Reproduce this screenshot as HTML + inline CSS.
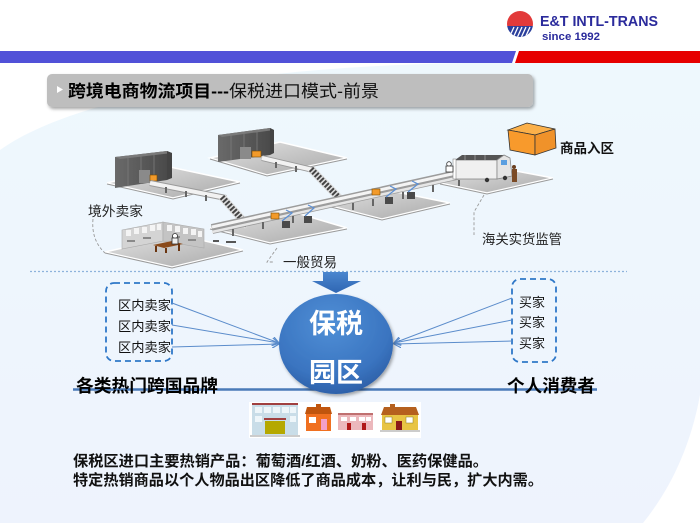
<!DOCTYPE html>
<html><head><meta charset="utf-8"><style>
html,body{margin:0;padding:0;background:#fff;}
svg{display:block;}
text{font-family:"Liberation Sans","Noto Sans CJK SC",sans-serif;}
</style></head><body>
<svg width="700" height="523" viewBox="0 0 700 523" xmlns="http://www.w3.org/2000/svg">
<defs>
<linearGradient id="bg" x1="0" y1="0" x2="0" y2="1"><stop offset="0" stop-color="#eef8fd"/><stop offset="1" stop-color="#eef3fd"/></linearGradient>
<linearGradient id="plat" x1="0" y1="0" x2="1" y2="1"><stop offset="0" stop-color="#e2e2e2"/><stop offset="1" stop-color="#a9a9a9"/></linearGradient>
<radialGradient id="ball" cx="0.45" cy="0.3" r="0.75"><stop offset="0" stop-color="#4f8fd6"/><stop offset="0.7" stop-color="#3a74c0"/><stop offset="1" stop-color="#2b5ca3"/></radialGradient>
<linearGradient id="arr" x1="0" y1="0" x2="0" y2="1"><stop offset="0" stop-color="#4a86cf"/><stop offset="1" stop-color="#2f66b2"/></linearGradient>
<linearGradient id="bld" x1="0" y1="0" x2="1" y2="0"><stop offset="0" stop-color="#6a6a6a"/><stop offset="1" stop-color="#4a4a4a"/></linearGradient>
<marker id="ah" markerWidth="8" markerHeight="8" refX="7" refY="4" orient="auto" markerUnits="userSpaceOnUse"><path d="M0,0 L7,4 L0,8" fill="none" stroke="#5b8ccb" stroke-width="1.2"/></marker>
<clipPath id="lc"><circle cx="520" cy="24" r="13"/></clipPath>
<filter id="sh" x="-10%" y="-10%" width="130%" height="150%"><feDropShadow dx="1.5" dy="2" stdDeviation="1.5" flood-color="#000" flood-opacity="0.35"/></filter>
</defs>

<!-- background light region -->
<path d="M0,150 C70,100 240,66 470,63 L700,63 L700,395 C690,450 668,492 643,523 L0,523 Z" fill="url(#bg)"/>

<!-- top bars -->
<polygon points="0,51 516,51 512,63 0,63" fill="#5151d8"/>
<polygon points="519,51 700,51 700,63 515,63" fill="#e60000"/>

<!-- logo -->
<g clip-path="url(#lc)">
<rect x="505" y="9" width="30" height="17" fill="#e23a3a"/>
<rect x="505" y="26" width="30" height="14" fill="#2b3f9c"/>
<g stroke="#fff" stroke-width="1.3">
<line x1="509" y1="38" x2="514" y2="27"/><line x1="513" y1="38" x2="518" y2="27"/><line x1="517" y1="38" x2="522" y2="27"/><line x1="521" y1="38" x2="526" y2="27"/><line x1="525" y1="38" x2="530" y2="27"/>
</g>
</g>
<text x="540" y="26" font-size="15" font-weight="bold" fill="#2b2b9c" textLength="118" lengthAdjust="spacingAndGlyphs">E&amp;T INTL-TRANS</text>
<text x="542" y="40" font-size="11" font-weight="bold" fill="#2b2b9c" textLength="58" lengthAdjust="spacingAndGlyphs">since  1992</text>

<!-- title box -->
<rect x="47" y="74" width="486" height="33" rx="5" fill="#bebebe" filter="url(#sh)"/>
<polygon points="57,86 63,89.5 57,93" fill="#fff"/>
<text x="68" y="97" font-size="17" font-weight="bold" fill="#000" textLength="161" lengthAdjust="spacingAndGlyphs">跨境电商物流项目---</text>
<text x="229" y="97" font-size="17" fill="#111" textLength="150" lengthAdjust="spacingAndGlyphs">保税进口模式-前景</text>

<!-- ===== isometric illustration ===== -->
<!-- platforms -->
<g stroke="#fff" stroke-width="1.5">
<polygon points="107,183 170,167 240,182 173,198" fill="url(#plat)"/>
<polygon points="210,158 280,142 347,158 267,175" fill="url(#plat)"/>
<polygon points="105,252 180,235 243,250 172,267" fill="url(#plat)"/>
<polygon points="210,228 290,211 347,228 270,243" fill="url(#plat)"/>
<polygon points="315,202 387,190 450,203 382,219" fill="url(#plat)"/>
<polygon points="440,183 500,168 553,178 487,193" fill="url(#plat)"/>
</g>
<!-- platform bottom shadows -->
<g stroke="#9a9a9a" stroke-width="1" fill="none">
<polyline points="107,184 173,199 240,183"/>
<polyline points="210,159 267,176 347,159"/>
<polyline points="105,253 172,268 243,251"/>
<polyline points="210,229 270,244 347,229"/>
<polyline points="315,203 382,220 450,204"/>
<polyline points="440,184 487,194 553,179"/>
</g>

<!-- building A -->
<polygon points="115,157 167,151 167,180 115,188" fill="url(#bld)"/>
<polygon points="115,157 167,151 172,153 120,159" fill="#7a7a7a"/>
<polygon points="167,151 172,153 172,178 167,180" fill="#444"/>
<g stroke="#7c7c7c" stroke-width="0.8"><line x1="128" y1="156" x2="128" y2="186"/><line x1="141" y1="154" x2="141" y2="184"/><line x1="154" y1="153" x2="154" y2="182"/></g>
<rect x="139" y="170" width="11" height="13" fill="#8a8a8a"/>
<rect x="150" y="175" width="7" height="6" fill="#f29a2a" stroke="#7a4a00" stroke-width="0.6"/>

<!-- building B -->
<polygon points="218,135 270,128 270,155 218,162" fill="url(#bld)"/>
<polygon points="218,135 270,128 274,130 222,137" fill="#7a7a7a"/>
<polygon points="270,128 274,130 274,153 270,155" fill="#444"/>
<g stroke="#7c7c7c" stroke-width="0.8"><line x1="231" y1="134" x2="231" y2="160"/><line x1="244" y1="132" x2="244" y2="158"/><line x1="257" y1="130" x2="257" y2="157"/></g>
<rect x="240" y="147" width="11" height="12" fill="#8a8a8a"/>
<rect x="252" y="151" width="9" height="6" fill="#f29a2a" stroke="#7a4a00" stroke-width="0.6"/>

<!-- conveyors -->
<g stroke-linecap="butt">
<line x1="150" y1="183" x2="226" y2="198" stroke="#9a9a9a" stroke-width="6"/>
<line x1="150" y1="183" x2="226" y2="198" stroke="#f2f2f2" stroke-width="4"/>
<line x1="262" y1="158" x2="313" y2="170" stroke="#9a9a9a" stroke-width="6"/>
<line x1="262" y1="158" x2="313" y2="170" stroke="#f2f2f2" stroke-width="4"/>
<!-- stairs -->
<line x1="222" y1="197" x2="248" y2="226" stroke="#ddd" stroke-width="8"/>
<line x1="222" y1="197" x2="248" y2="226" stroke="#444" stroke-width="6" stroke-dasharray="2 1.6"/>
<line x1="311" y1="169" x2="344" y2="203" stroke="#ddd" stroke-width="8"/>
<line x1="311" y1="169" x2="344" y2="203" stroke="#444" stroke-width="6" stroke-dasharray="2 1.6"/>
<!-- main conveyor -->
<line x1="212" y1="229" x2="470" y2="172" stroke="#9c9c9c" stroke-width="10"/>
<line x1="212" y1="227" x2="470" y2="170" stroke="#f4f4f4" stroke-width="3"/>
<line x1="212" y1="232" x2="470" y2="175" stroke="#e6e6e6" stroke-width="2.5"/>
</g>
<!-- legs -->
<g fill="#666">
<rect x="165" y="187" width="2" height="6"/><rect x="185" y="191" width="2" height="6"/><rect x="205" y="195" width="2" height="6"/>
<rect x="275" y="162" width="2" height="6"/><rect x="295" y="166" width="2" height="6"/>
<rect x="232" y="229" width="2" height="7"/><rect x="262" y="222" width="2" height="7"/><rect x="292" y="216" width="2" height="7"/>
<rect x="352" y="203" width="2" height="7"/><rect x="372" y="199" width="2" height="7"/><rect x="402" y="192" width="2" height="7"/><rect x="432" y="185" width="2" height="7"/><rect x="458" y="180" width="2" height="6"/>
</g>
<!-- bins -->
<g fill="#4a4a4a">
<rect x="282" y="221" width="8" height="7"/><rect x="304" y="216" width="8" height="7"/>
<rect x="385" y="197" width="8" height="7"/><rect x="407" y="192" width="8" height="7"/>
</g>
<g stroke="#5b8fd4" stroke-width="1.2" fill="none">
<polyline points="282,221 292,213 286,210"/><polyline points="305,216 314,208 308,205"/>
<polyline points="386,197 396,189 390,186"/><polyline points="408,192 418,184 412,181"/>
</g>
<rect x="271" y="213" width="8" height="6" fill="#f29a2a" stroke="#7a4a00" stroke-width="0.6"/>
<rect x="372" y="189" width="8" height="6" fill="#f29a2a" stroke="#7a4a00" stroke-width="0.6"/>
<rect x="213" y="240" width="6" height="2" fill="#555"/><rect x="226" y="241" width="10" height="2" fill="#555"/>

<!-- office C -->
<polygon points="122,230 163,222 163,241 122,249" fill="#d4d4d4" stroke="#aaa" stroke-width="0.6"/>
<polygon points="163,222 204,229 204,248 163,241" fill="#c4c4c4" stroke="#aaa" stroke-width="0.6"/>
<g fill="#f4f4f4">
<rect x="126" y="230" width="5" height="6"/><rect x="134" y="228" width="5" height="6"/><rect x="142" y="227" width="5" height="6"/><rect x="150" y="225" width="5" height="6"/><rect x="157" y="224" width="4" height="6"/>
<rect x="167" y="225" width="5" height="6"/><rect x="175" y="226" width="5" height="6"/><rect x="183" y="228" width="5" height="6"/><rect x="191" y="229" width="5" height="6"/><rect x="198" y="231" width="4" height="6"/>
</g>
<g fill="#8a8a8a"><rect x="127" y="240" width="8" height="2"/><rect x="143" y="237" width="8" height="2"/><rect x="172" y="236" width="8" height="2"/><rect x="188" y="239" width="8" height="2"/></g>
<polygon points="153,245 172,241 183,244 164,248" fill="#8a4a1a"/>
<rect x="155" y="246" width="2" height="6" fill="#6b3510"/><rect x="178" y="244" width="2" height="7" fill="#6b3510"/><rect x="165" y="248" width="2" height="5" fill="#6b3510"/>
<circle cx="175" cy="236" r="2.5" fill="#fff" stroke="#333" stroke-width="0.8"/>
<rect x="172" y="238" width="6" height="6" fill="#eee" stroke="#333" stroke-width="0.8"/>

<!-- truck F -->
<rect x="455" y="160" width="42" height="19" fill="#f0f0f0" stroke="#888" stroke-width="0.8"/>
<polygon points="455,160 462,155 504,155 497,160" fill="#555"/>
<g stroke="#aaa" stroke-width="0.7"><line x1="465" y1="155" x2="465" y2="160"/><line x1="475" y1="155" x2="475" y2="160"/><line x1="485" y1="155" x2="485" y2="160"/></g>
<polygon points="497,160 504,155 510,158 512,176 497,179" fill="#e4e4e4" stroke="#888" stroke-width="0.8"/>
<rect x="501" y="160" width="6" height="5" fill="#5a9ee0"/>
<rect x="453" y="159" width="3" height="20" fill="#fff" stroke="#888" stroke-width="0.6"/>
<circle cx="487" cy="180" r="2.2" fill="#333"/><circle cx="505" cy="178" r="2.2" fill="#333"/>
<circle cx="514" cy="167" r="2" fill="#6b4020"/><rect x="512" y="169" width="5" height="13" fill="#7a4a25"/>
<circle cx="449" cy="164" r="2.3" fill="#fff" stroke="#333" stroke-width="0.8"/><rect x="446" y="166" width="7" height="6" fill="#fff" stroke="#333" stroke-width="0.8"/>

<!-- orange cube -->
<polygon points="508,130 527,123 555,129 535,135" fill="#fbb04a" stroke="#333" stroke-width="0.8"/>
<polygon points="508,130 535,135 535,155 510,150" fill="#f89a2c" stroke="#333" stroke-width="0.8"/>
<polygon points="535,135 555,129 556,148 535,155" fill="#f0922a" stroke="#333" stroke-width="0.8"/>
<text x="560" y="153" font-size="13.5" font-weight="bold" fill="#111" textLength="54" lengthAdjust="spacingAndGlyphs">商品入区</text>

<!-- callouts -->
<g stroke="#999" stroke-width="0.9" fill="none" stroke-dasharray="3 2">
<path d="M93,219 Q91,240 105,253"/>
<polyline points="277,248 267,262 273,262"/>
<polyline points="484,195 474,212 474,235"/>
</g>
<text x="88" y="216" font-size="13.5" fill="#222" textLength="55" lengthAdjust="spacingAndGlyphs">境外卖家</text>
<text x="283" y="267" font-size="13.5" fill="#222" textLength="54" lengthAdjust="spacingAndGlyphs">一般贸易</text>
<text x="482" y="244" font-size="13.5" fill="#222" textLength="80" lengthAdjust="spacingAndGlyphs">海关实货监管</text>

<!-- separator -->
<line x1="30" y1="271.5" x2="627" y2="271.5" stroke="#8db3dc" stroke-width="1.2" stroke-dasharray="2 2"/>

<!-- big arrow -->
<polygon points="323,272 348,272 348,281 361,281 336,293 312,281 323,281" fill="url(#arr)"/>

<!-- dashed boxes -->
<rect x="106" y="283" width="66" height="78" rx="8" fill="none" stroke="#2f78c8" stroke-width="1.8" stroke-dasharray="6 4"/>
<rect x="512" y="279" width="44" height="83" rx="8" fill="none" stroke="#2f78c8" stroke-width="1.8" stroke-dasharray="6 4"/>
<g font-size="13" fill="#111">
<text x="118" y="310" textLength="53" lengthAdjust="spacingAndGlyphs">区内卖家</text>
<text x="118" y="331" textLength="53" lengthAdjust="spacingAndGlyphs">区内卖家</text>
<text x="118" y="352" textLength="53" lengthAdjust="spacingAndGlyphs">区内卖家</text>
<text x="519" y="307" textLength="26" lengthAdjust="spacingAndGlyphs">买家</text>
<text x="519" y="327" textLength="26" lengthAdjust="spacingAndGlyphs">买家</text>
<text x="519" y="348" textLength="26" lengthAdjust="spacingAndGlyphs">买家</text>
</g>

<!-- connectors -->
<g stroke="#5b8ccb" stroke-width="1" fill="none">
<line x1="172" y1="303" x2="279" y2="343" marker-end="url(#ah)"/>
<line x1="172" y1="325" x2="279" y2="343" marker-end="url(#ah)"/>
<line x1="172" y1="347" x2="279" y2="344" marker-end="url(#ah)"/>
<line x1="512" y1="298" x2="394" y2="343" marker-end="url(#ah)"/>
<line x1="512" y1="320" x2="394" y2="343" marker-end="url(#ah)"/>
<line x1="512" y1="341" x2="394" y2="344" marker-end="url(#ah)"/>
</g>

<!-- baseline + labels -->
<line x1="73" y1="389.5" x2="597" y2="389.5" stroke="#4a7ab8" stroke-width="2.5"/>
<text x="76" y="392" font-size="17.5" font-weight="bold" fill="#000" textLength="142" lengthAdjust="spacingAndGlyphs">各类热门跨国品牌</text>
<text x="507" y="392" font-size="17.5" font-weight="bold" fill="#000" textLength="88" lengthAdjust="spacingAndGlyphs">个人消费者</text>

<!-- circle -->
<ellipse cx="336" cy="344" rx="57" ry="50" fill="url(#ball)" filter="url(#sh)"/>
<text x="336" y="333" font-size="27" font-weight="bold" fill="#fff" text-anchor="middle">保税</text>
<text x="336" y="382" font-size="27" font-weight="bold" fill="#fff" text-anchor="middle">园区</text>

<!-- stores -->
<rect x="249" y="402" width="172" height="36" fill="#fff"/>
<rect x="252" y="403" width="46" height="32" fill="#c9dde8"/>
<rect x="252" y="403" width="46" height="2" fill="#a04040"/>
<g fill="#eef6fa"><rect x="255" y="407" width="7" height="6"/><rect x="264" y="407" width="7" height="6"/><rect x="273" y="407" width="7" height="6"/><rect x="282" y="407" width="7" height="6"/><rect x="290" y="407" width="6" height="6"/><rect x="255" y="416" width="7" height="6"/><rect x="290" y="416" width="6" height="6"/></g>
<rect x="264" y="418" width="22" height="2" fill="#a04040"/>
<rect x="265" y="421" width="20" height="13" fill="#b5a800"/>
<rect x="250" y="435" width="50" height="2" fill="#ccc"/>
<polygon points="305,414 307,407 330,407 332,414" fill="#c0550e"/>
<rect x="316" y="404" width="5" height="4" fill="#c0550e"/>
<rect x="306" y="414" width="25" height="17" fill="#f07020"/>
<rect x="309" y="417" width="7" height="6" fill="#fff"/><rect x="321" y="419" width="6" height="11" fill="#f3a0c8"/>
<rect x="338" y="413" width="35" height="17" fill="#ecb8bc"/>
<rect x="338" y="413" width="35" height="2" fill="#c07070"/>
<g fill="#fff"><rect x="341" y="417" width="6" height="4"/><rect x="350" y="417" width="6" height="4"/><rect x="359" y="417" width="6" height="4"/><rect x="366" y="417" width="5" height="4"/></g>
<rect x="347" y="423" width="4" height="7" fill="#b01818"/><rect x="362" y="423" width="4" height="7" fill="#b01818"/>
<polygon points="381,415 384,407 416,407 419,415" fill="#b5601e"/>
<rect x="390" y="404" width="5" height="4" fill="#b5601e"/>
<rect x="382" y="415" width="36" height="15" fill="#e8c444"/>
<rect x="385" y="417" width="7" height="6" fill="#fff" stroke="#8a7a20" stroke-width="0.5"/><rect x="406" y="417" width="7" height="6" fill="#fff" stroke="#8a7a20" stroke-width="0.5"/>
<rect x="396" y="421" width="6" height="9" fill="#8a1818"/>
<rect x="380" y="430" width="40" height="2" fill="#ccc"/>

<!-- bottom text -->
<text x="73" y="466" font-size="15" font-weight="bold" fill="#111" textLength="415" lengthAdjust="spacingAndGlyphs">保税区进口主要热销产品：葡萄酒/红酒、奶粉、医药保健品。</text>
<text x="73" y="485" font-size="15" font-weight="bold" fill="#111" textLength="470" lengthAdjust="spacingAndGlyphs">特定热销商品以个人物品出区降低了商品成本，让利与民，扩大内需。</text>
</svg>
</body></html>
